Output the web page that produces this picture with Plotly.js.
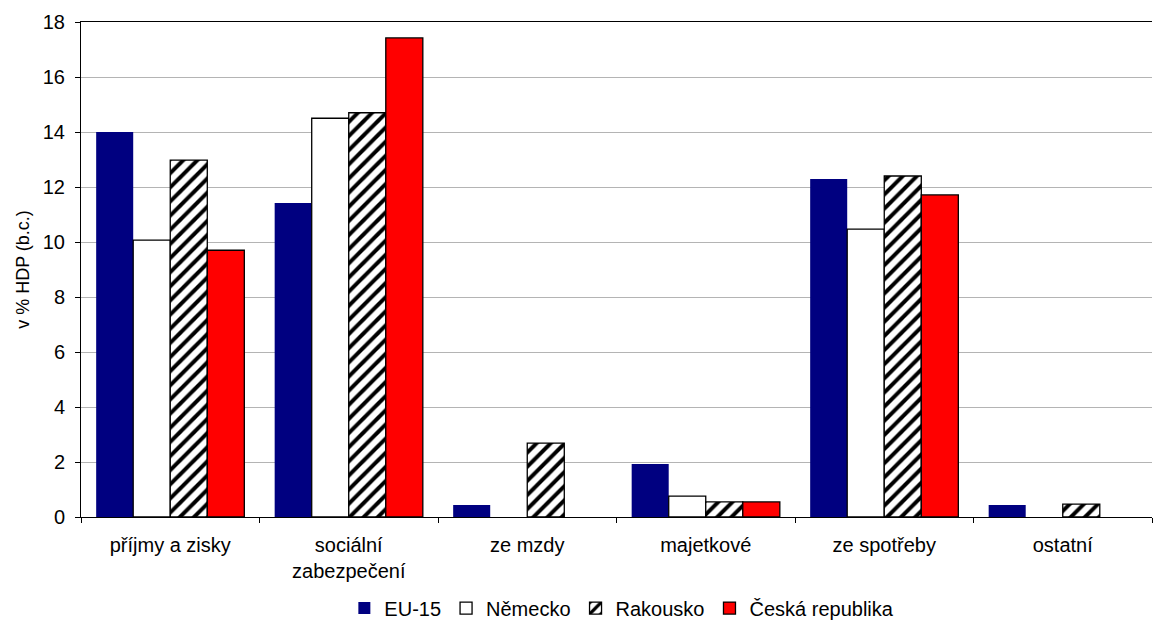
<!DOCTYPE html>
<html>
<head>
<meta charset="utf-8">
<script src="https://cdn.plot.ly/plotly-3.0.1.min.js"></script>
<style>html,body{margin:0;padding:0;background:#fff;}#chart{width:1176px;height:622px;}</style>
</head>
<body>
<div id="chart"></div>
<script>
const categories = ["příjmy a zisky", "sociální<br>zabezpečení", "ze mzdy", "majetkové", "ze spotřeby", "ostatní"];
const seriesNames = ["EU-15", "Německo", "Rakousko", "Česká republika"];
const eu15 = [14.0, 11.42, 0.44, 1.93, 12.29, 0.44];
const nemecko = [10.07, 14.5, null, 0.76, 10.47, null];
const rakousko = [12.98, 14.7, 2.69, 0.55, 12.4, 0.47];
const ceskaRepublika = [9.7, 17.42, null, 0.55, 11.71, null];

const traces = [
  {type:'bar', name:seriesNames[0], x:categories, y:eu15,
   marker:{color:'#000080', line:{width:0}}},
  {type:'bar', name:seriesNames[1], x:categories, y:nemecko,
   marker:{color:'#ffffff', line:{color:'#000', width:1.3}}},
  {type:'bar', name:seriesNames[2], x:categories, y:rakousko,
   marker:{color:'#ffffff', line:{color:'#000', width:1.3},
           pattern:{shape:'/', fgcolor:'#000', bgcolor:'#fff', size:10, solidity:0.4}}},
  {type:'bar', name:seriesNames[3], x:categories, y:ceskaRepublika,
   marker:{color:'#ff0000', line:{color:'#000', width:1.3}}}
];

const layout = {
  width:1176, height:622,
  margin:{l:81, r:24, t:22, b:105, autoexpand:false},
  paper_bgcolor:'#fff', plot_bgcolor:'#fff',
  font:{family:'Liberation Sans, Arial, sans-serif', size:20, color:'#000'},
  barmode:'group', bargap:0.17, bargroupgap:0,
  showlegend:true,
  legend:{orientation:'h', x:0.505, xanchor:'center', y:-0.184, yanchor:'middle',
          font:{size:20}, itemwidth:30, tracegroupgap:0},
  xaxis:{type:'category', showline:true, linecolor:'#000', linewidth:1, mirror:true,
         ticks:'outside', tickson:'boundaries', ticklen:5, tickcolor:'#000',
         showgrid:false, tickfont:{size:20}, ticklabelstandoff:10, automargin:false},
  yaxis:{range:[0,18], dtick:2, showline:true, linecolor:'#000', linewidth:1,
         ticks:'outside', ticklen:5, tickcolor:'#000',
         showgrid:true, gridcolor:'#b4b4b4', gridwidth:1, zeroline:false,
         tickfont:{size:20}, ticklabelstandoff:6,
         title:{text:'v % HDP (b.c.)', font:{size:18}, standoff:8}, automargin:false}
};

Plotly.newPlot('chart', traces, layout, {displayModeBar:false, staticPlot:true});
</script>
</body>
</html>
